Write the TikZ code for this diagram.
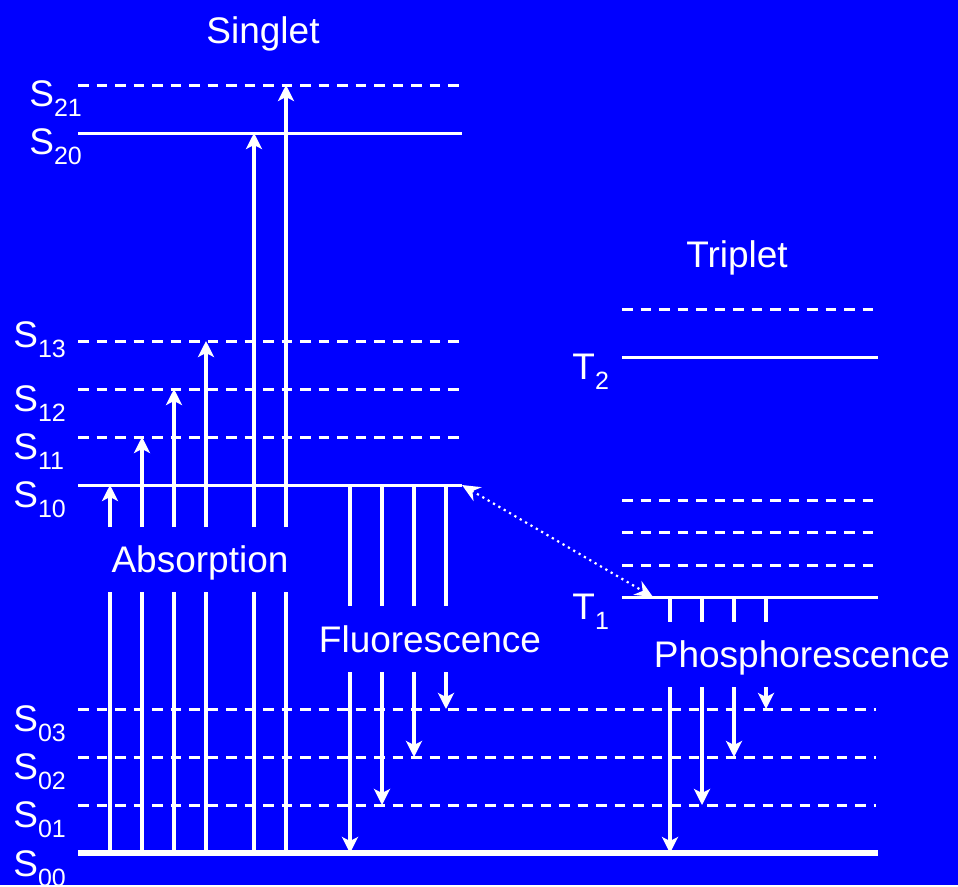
\documentclass[tikz,border=0pt]{standalone}
\usepackage{fontspec}
\setmainfont{Liberation Sans}
\usetikzlibrary{arrows.meta}
\definecolor{CBack}{HTML}{0000FF}
\definecolor{CWhite}{HTML}{FFFFFF}
\newcommand{\lvl}[2]{#1\raisebox{-5pt}{\fontsize{12.5}{13}\selectfont #2}}

\begin{document}
\begin{tikzpicture}[x=0.5pt, y=-0.5pt,
    lab/.style={text=CWhite, inner sep=0pt, anchor=base west, font=\fontsize{18.5}{22}\selectfont},
    ttl/.style={text=CWhite, inner sep=0pt, anchor=base, font=\fontsize{18.5}{22}\selectfont},
    elev/.style={CWhite, line width=1.5pt},
    vib/.style={CWhite, line width=1.5pt, dash pattern=on 5.25pt off 4pt},
    shaft/.style={CWhite, line width=2pt},
    trans/.style={CWhite, line width=2pt, -{Stealth[length=8pt, width=8pt, inset=2pt]}},
    isc/.style={CWhite, line width=1.1pt, dotted, {Stealth[length=9pt, width=8pt, inset=3pt]}-{Stealth[length=9pt, width=8pt, inset=3pt]}}]
    % Background
    \fill[CBack] (0,0) rectangle (958,885);

    % Singlet levels
    \foreach \y in {85,341,389,437}
        \draw[vib] (78,\y) -- (464,\y);
    \draw[elev] (78,133) -- (462,133);
    \draw[elev] (78,485) -- (462,485);

    % Triplet levels
    \foreach \y in {309,500,532,565}
        \draw[vib] (622,\y) -- (880,\y);
    \draw[elev] (622,357) -- (878,357);
    \draw[elev] (622,597) -- (878,597);

    % Ground state and its vibrational levels
    \foreach \y in {709,757,805}
        \draw[vib] (78,\y) -- (876,\y);
    \draw[CWhite, line width=3pt] (78,853) -- (878,853);

    % Absorption
    \foreach \x/\top in {110/485, 142/437, 174/389, 206/341, 254/133, 286/85} {
        \draw[shaft] (\x,853) -- (\x,592);
        \draw[trans] (\x,527) -- (\x,\top);
    }

    % Fluorescence
    \foreach \x/\bot in {350/853, 382/805, 414/757, 446/709} {
        \draw[shaft] (\x,485) -- (\x,606);
        \draw[trans] (\x,672) -- (\x,\bot);
    }

    % Phosphorescence
    \foreach \x/\bot in {670/853, 702/805, 734/757, 766/709} {
        \draw[shaft] (\x,597) -- (\x,622);
        \draw[trans] (\x,687) -- (\x,\bot);
    }

    % Intersystem crossing
    \coordinate (iscS) at (462,485);
    \coordinate (iscT) at (653,597);
    \draw[isc] (iscS) -- (iscT);

    % Titles
    \node[ttl] (singlet) at (263,43) {Singlet};
    \node[ttl] (triplet) at (737,267) {Triplet};
    \node[ttl] (absorb) at (200,572) {Absorption};
    \node[ttl] (fluor) at (430,652) {Fluorescence};
    \node[ttl] (phos) at (802,667) {Phosphorescence};

    % Level labels
    \node[lab] (s21) at (29,106) {\lvl{S}{21}};
    \node[lab] (s20) at (29,154) {\lvl{S}{20}};
    \node[lab] (s13) at (13,347) {\lvl{S}{13}};
    \node[lab] (s12) at (13,411) {\lvl{S}{12}};
    \node[lab] (s11) at (13,459) {\lvl{S}{11}};
    \node[lab] (s10) at (13,507) {\lvl{S}{10}};
    \node[lab] (s03) at (13,731) {\lvl{S}{03}};
    \node[lab] (s02) at (13,779) {\lvl{S}{02}};
    \node[lab] (s01) at (13,827) {\lvl{S}{01}};
    \node[lab] (s00) at (13,876) {\lvl{S}{00}};
    \node[lab] (t2) at (572,379) {\lvl{T}{2}};
    \node[lab] (t1) at (572,619) {\lvl{T}{1}};
\end{tikzpicture}
\end{document}
